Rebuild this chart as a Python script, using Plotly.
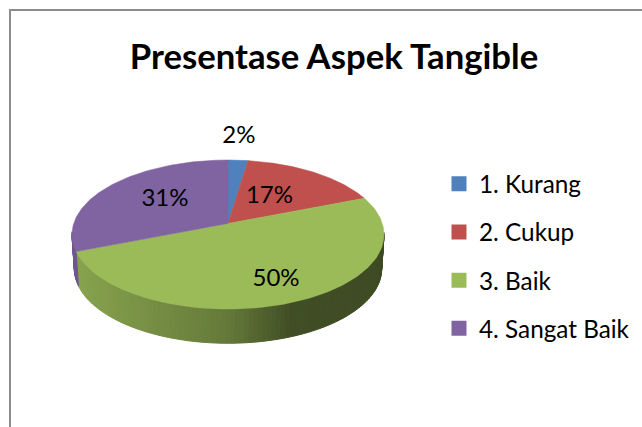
import numpy as np
import plotly.graph_objects as go

# Data
categories = ["1. Kurang", "2. Cukup", "3. Baik", "4. Sangat Baik"]
values = [1, 7, 21, 13]
colors = ["#4F81BD", "#C0504D", "#9BBB59", "#8064A2"]
title_text = "Presentase Aspek Tangible"

# Style / geometry (pixel placement of the pseudo-3D pie)
W, H = 642, 427
CX, CY, RX, RY = 228.0, 234.5, 156.0, 74.5
TILT = 0.148      # apex shift due to perspective
DEPTH = 0.46      # wall height, in RY units
BOTTOM_SCALE = 0.985
label_radius = [1.47, 0.5, 0.72, 0.55]
label_nudge_px = [(-3, 1), (-4, 0), (3, 2), (4, -2)]  # right, down
FONT = "Lato, Carlito, Calibri, sans-serif"


def project(r, theta):
    """Perspective projection of a pie point (clockwise from the top)."""
    x, y = r * np.sin(theta), r * np.cos(theta)
    d = 1 + TILT * y
    return x * np.sqrt(1 - TILT ** 2) / d, (y + TILT) / d


def rgb(hex_color, f):
    h = hex_color.lstrip("#")
    c = [int(h[i:i + 2], 16) for i in (0, 2, 4)]
    return "rgb(%d,%d,%d)" % tuple(int(v * f) for v in c)


def shade(x):
    return float(np.interp(x, [-1, 0, 0.4, 1], [0.88, 0.65, 0.42, 0.40]))


fracs = np.array(values, dtype=float) / sum(values)
edges = np.concatenate([[0], np.cumsum(fracs)]) * 2 * np.pi

fig = go.Figure()

# side walls as shaded strips
for i, col in enumerate(colors):
    t = np.linspace(edges[i], edges[i + 1], int(max(fracs[i] * 240, 2)) + 1)
    px, py = project(1.0, t)
    for k in range(len(t) - 1):
        if py[k] > 0.02 and py[k + 1] > 0.02:
            continue
        xs = [px[k], px[k + 1], px[k + 1] * BOTTOM_SCALE, px[k] * BOTTOM_SCALE, px[k]]
        ys = [py[k], py[k + 1], py[k + 1] - DEPTH, py[k] - DEPTH, py[k]]
        c = rgb(col, shade((px[k] + px[k + 1]) / 2))
        fig.add_trace(go.Scatter(x=xs, y=ys, mode="lines", fill="toself", fillcolor=c,
                                 line=dict(color=c, width=1), hoverinfo="skip", showlegend=False))

# top faces
for i, col in enumerate(colors):
    t = np.linspace(edges[i], edges[i + 1], 121)
    px, py = project(1.0, t)
    ax, ay = project(0.0, 0.0)
    fig.add_trace(go.Scatter(x=np.r_[ax, px, ax], y=np.r_[ay, py, ay], mode="lines", fill="toself",
                             fillcolor=col, line=dict(color=col, width=0.5),
                             hoverinfo="skip", showlegend=False))

# labels
mids = (edges[:-1] + edges[1:]) / 2
lx, ly = zip(*[project(r, m) for r, m in zip(label_radius, mids)])
lx = [v + n[0] / RX for v, n in zip(lx, label_nudge_px)]
ly = [v - n[1] / RY for v, n in zip(ly, label_nudge_px)]
fig.add_trace(go.Scatter(x=lx, y=ly, mode="text",
                         text=["%d%%" % round(f * 100) for f in fracs],
                         textfont=dict(family=FONT, size=24, color="#000000"),
                         hoverinfo="skip", showlegend=False))

# legend entries
for name, col in zip(categories, colors):
    fig.add_trace(go.Scatter(x=[None], y=[None], mode="markers", name=name, legendgroup=name,
                             marker=dict(symbol="square", size=15, color=col)))

fig.update_layout(
    width=W, height=H, autosize=False,
    margin=dict(l=0, r=0, t=0, b=0),
    paper_bgcolor="white", plot_bgcolor="white",
    xaxis=dict(visible=False, fixedrange=True, range=[-CX / RX, (W - CX) / RX]),
    yaxis=dict(visible=False, fixedrange=True, range=[(CY - H) / RY, CY / RY]),
    title=dict(text="<b>%s</b>" % title_text, x=334 / W, xanchor="center", y=1 - 57 / H, yanchor="middle",
               font=dict(family=FONT, size=34.7, color="#000000")),
    legend=dict(x=439 / W, y=1 - 161.5 / H, xanchor="left", yanchor="top", tracegroupgap=13.6,
                bgcolor="rgba(0,0,0,0)", font=dict(family=FONT, size=24.3, color="#000000")),
    shapes=[dict(type="path", xref="paper", yref="paper",
                 path="M %f 0 L %f %f L 1 %f" % (10 / W, 10 / W, 1 - 10 / H, 1 - 10 / H),
                 line=dict(color="#8C8C8C", width=2))],
)
fig.write_html("out.html", config=dict(displayModeBar=False),
               post_script="document.body.style.margin='0';")
